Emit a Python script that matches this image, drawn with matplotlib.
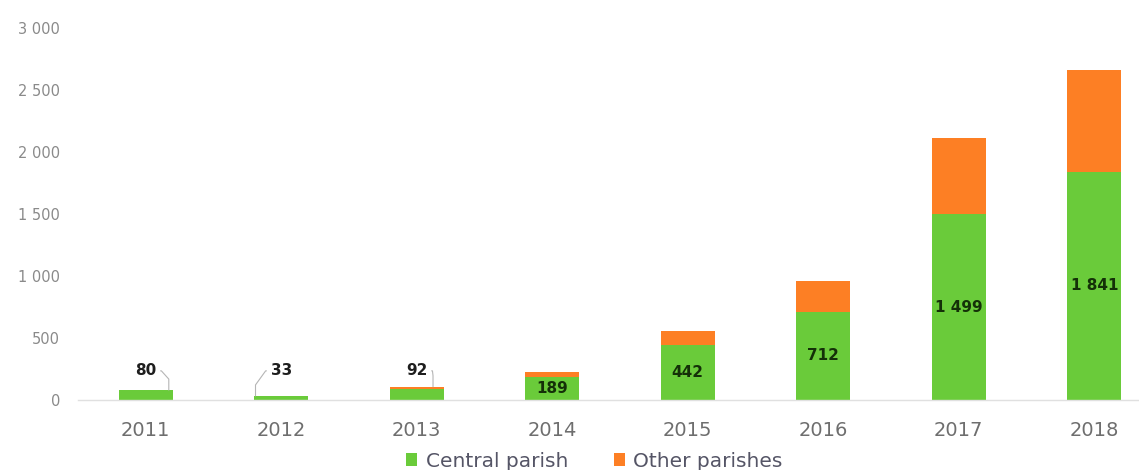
import matplotlib.pyplot as plt
import numpy as np

# Datos por año
anios = ['2011', '2012', '2013', '2014', '2015', '2016', '2017', '2018']
central = [80, 33, 92, 189, 442, 712, 1499, 1841]
otras = [0, 0, 15, 36, 113, 248, 611, 820]

verde = '#6acb3a'
naranja = '#fd7f24'

def miles(v):
    return f'{int(v):,}'.replace(',', ' ')

fig = plt.figure(figsize=(11.39, 4.70), dpi=100)
ax = fig.add_axes([78 / 1139, 70 / 470, 1 - 78 / 1139, 372 / 470])

x = np.arange(len(anios))
ax.bar(x, central, width=0.4, color=verde, label='Central parish')
ax.bar(x, otras, width=0.4, bottom=central, color=naranja, label='Other parishes')

ax.set_xlim(-0.5, 7.33)
ax.set_ylim(0, 3000)
ax.set_yticks(range(0, 3001, 500))
ax.set_yticklabels([miles(v) for v in range(0, 3001, 500)],
                   fontsize=10.5, color='#8a8a8a')
ax.set_xticks(x)
ax.set_xticklabels(anios, fontsize=14, color='#6e6e6e')
ax.tick_params(length=0)
ax.tick_params(axis='y', pad=13)
ax.tick_params(axis='x', pad=15)

for lado in ['top', 'right', 'left']:
    ax.spines[lado].set_visible(False)
ax.spines['bottom'].set_color('#e0e0e0')
ax.spines['bottom'].set_linewidth(1)

# Etiquetas: valores pequeños fuera con línea guía, el resto dentro de la barra
guias = {0: 0.17, 1: -0.19, 2: 0.12}
for i, v in enumerate(central):
    if i in guias:
        d = guias[i]
        ax.annotate(str(v), xy=(i + d, v + otras[i]), xytext=(i, 235),
                    ha='center', va='center', fontsize=11, fontweight='bold',
                    color='#1e1e1e',
                    arrowprops=dict(arrowstyle='-', color='#b5b5b5', lw=0.8,
                                    shrinkA=1, shrinkB=0,
                                    relpos=(1, 0.5) if d > 0 else (0, 0.5),
                                    connectionstyle='arc,angleA=%d,angleB=90,armA=5,armB=11,rad=0'
                                    % (0 if d > 0 else 180)))
    else:
        ax.text(i, v / 2, miles(v), ha='center', va='center', fontsize=11,
                fontweight='bold', color='#143008')

leg = fig.legend(loc='lower center', bbox_to_anchor=(0.522, -0.04), ncol=2,
                 frameon=False, handlelength=0.55, handleheight=0.55,
                 handletextpad=0.4, columnspacing=2.3,
                 prop={'size': 14.5})
for t in leg.get_texts():
    t.set_color('#555566')

fig.savefig('out.png', dpi=100)
